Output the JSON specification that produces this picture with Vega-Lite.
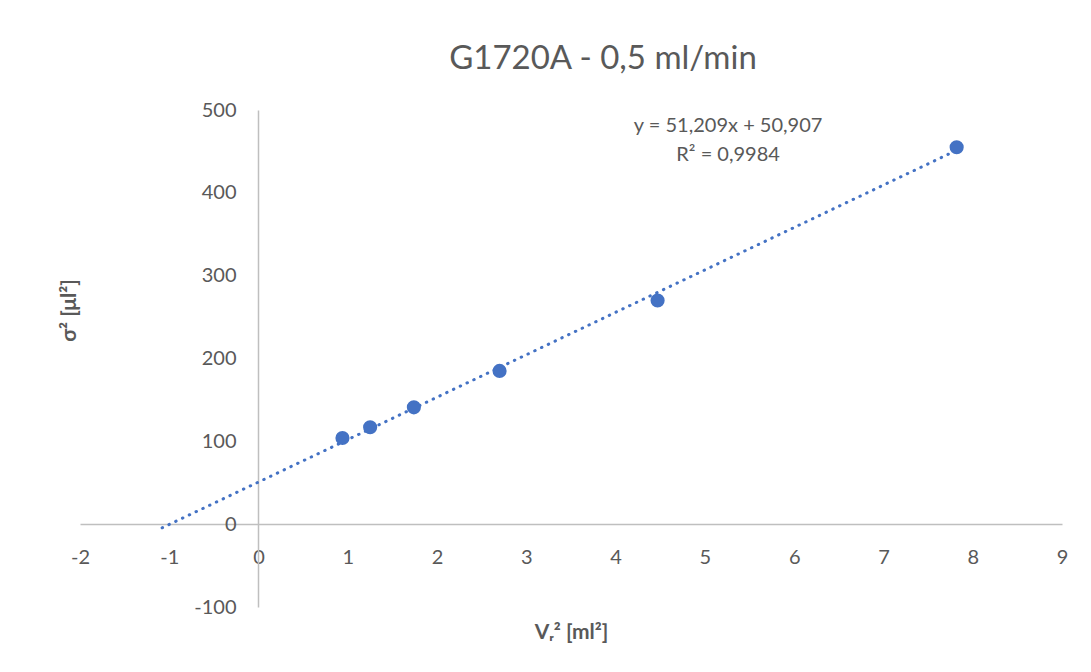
{
  "$schema": "https://vega.github.io/schema/vega-lite/v6.json",
  "width": 982,
  "height": 497,
  "autosize": {"type": "none"},
  "padding": {"left": 80, "top": 110, "right": 29, "bottom": 65},
  "background": "white",
  "title": {
    "text": "G1720A - 0,5 ml/min",
    "font": "Lato",
    "fontSize": 33,
    "fontWeight": "normal",
    "color": "#595959",
    "anchor": "middle",
    "dx": 32,
    "offset": 24
  },
  "config": {
    "view": {"stroke": null},
    "axis": {
      "domainColor": "#BFBFBF",
      "domainWidth": 1.5,
      "ticks": false,
      "grid": false,
      "labelColor": "#595959",
      "labelFont": "Lato",
      "labelFontSize": 20,
      "labelFlush": false,
      "labelOverlap": false,
      "labelExpr": "'' + datum.value",
      "titleColor": "#595959",
      "titleFont": "Lato",
      "titleFontSize": 21,
      "titleFontWeight": "bold"
    }
  },
  "datasets": {
    "points": [
      {"x": 0.94, "y": 104},
      {"x": 1.25, "y": 117},
      {"x": 1.74, "y": 141},
      {"x": 2.70, "y": 185},
      {"x": 4.47, "y": 270},
      {"x": 7.82, "y": 455}
    ],
    "trend": [
      {"x": -1.08, "y": -4.4},
      {"x": 7.82, "y": 451.4}
    ],
    "equation": [
      {"label": "y = 51,209x + 50,907", "x": 5.26, "y": 480.5},
      {"label": "R² = 0,9984", "x": 5.26, "y": 445.6}
    ]
  },
  "encoding": {
    "x": {
      "field": "x",
      "type": "quantitative",
      "scale": {"domain": [-2, 9], "nice": false, "zero": false},
      "axis": {
        "values": [-2, -1, 0, 1, 2, 3, 4, 5, 6, 7, 8, 9],
        "offset": -83,
        "labelPadding": 23,
        "title": "Vᵣ² [ml²]",
        "titleY": 108,
        "titleBaseline": "middle"
      }
    },
    "y": {
      "field": "y",
      "type": "quantitative",
      "scale": {"domain": [-100, 500], "nice": false, "zero": false},
      "axis": {
        "values": [-100, 0, 100, 200, 300, 400, 500],
        "offset": -178,
        "labelPadding": 22,
        "title": "σ² [μl²]",
        "titleX": -189,
        "titleY": 200,
        "titleAngle": -90,
        "titleAlign": "center",
        "titleBaseline": "middle"
      }
    }
  },
  "layer": [
    {
      "data": {"name": "trend"},
      "mark": {
        "type": "line",
        "color": "#4472C4",
        "strokeWidth": 3,
        "strokeDash": [0.5, 7],
        "strokeCap": "round"
      }
    },
    {
      "data": {"name": "points"},
      "mark": {"type": "point", "filled": true, "shape": "circle", "size": 200, "color": "#4472C4", "opacity": 1}
    },
    {
      "data": {"name": "equation"},
      "mark": {"type": "text", "font": "Lato", "fontSize": 20, "color": "#595959", "align": "center", "baseline": "middle"},
      "encoding": {"text": {"field": "label", "type": "nominal"}}
    }
  ]
}
